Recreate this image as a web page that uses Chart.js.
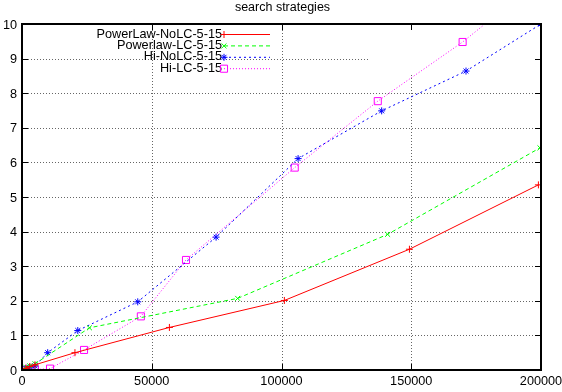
<!DOCTYPE html>
<html>
<head>
<meta charset="utf-8">
<script src="https://cdn.jsdelivr.net/npm/chart.js@4/dist/chart.umd.min.js"></script>
<style>
    html, body { margin: 0; padding: 0; background: #fff; }
    #wrap { width: 562px; height: 392px; }
</style>
</head>
<body>
<div id="wrap"><canvas id="searchChart" width="562" height="392"></canvas></div>
<script>
// values
const xTicks = [0, 50000, 100000, 150000, 200000];
const yTicks = [0, 1, 2, 3, 4, 5, 6, 7, 8, 9, 10];

const powerNoLcX = [0, 1500, 3000, 5000, 20400, 56800, 101100, 149300, 199000];
const powerNoLcY = [0, 0.05, 0.1, 0.15, 0.5, 1.23, 2.01, 3.49, 5.35];

const powerLcX = [0, 1500, 3000, 5000, 26000, 83100, 140900, 199600];
const powerLcY = [0, 0.08, 0.12, 0.18, 1.22, 2.07, 3.92, 6.42];

const hiNoLcX = [0, 1500, 3000, 5000, 9900, 21500, 44600, 74800, 106400, 138600, 171100, 200000];
const hiNoLcY = [0, 0.05, 0.08, 0.12, 0.5, 1.14, 1.97, 3.84, 6.11, 7.49, 8.64, 10.0];

const hiLcX = [0, 1500, 3000, 5000, 10800, 23900, 45800, 63200, 105100, 137100, 169800, 200000];
const hiLcY = [0, 0, 0, 0.01, 0.04, 0.58, 1.55, 3.18, 5.85, 7.77, 9.48, 11.3];

const seriesLabels = ['PowerLaw-NoLC-5-15', 'Powerlaw-LC-5-15', 'Hi-NoLC-5-15', 'Hi-LC-5-15'];

const FONT = '"Liberation Sans", Arial, sans-serif';

function toPoints(xs, ys) {
    return xs.map(function (x, i) { return { x: x, y: ys[i] }; });
}

// gnuplot style frame: dotted grid, black border, inward ticks, labels
const frame = {
    id: 'frame',
    beforeDatasetsDraw: function (chart) {
        const ctx = chart.ctx, a = chart.chartArea;
        const xs = chart.scales.x, ys = chart.scales.y;
        // the reference leaves the grid blank in the upper right corner
        const gapLeft = 368, gapBottom = 75;
        ctx.save();
        ctx.strokeStyle = '#666';
        ctx.lineWidth = 1;
        ctx.setLineDash([1, 2]);
        xTicks.forEach(function (v) {
            const px = Math.round(xs.getPixelForValue(v)) + 0.5;
            if (px <= a.left + 1 || px >= a.right - 1) return;
            const top = px > gapLeft ? gapBottom : a.top;
            ctx.beginPath(); ctx.moveTo(px, top); ctx.lineTo(px, a.bottom); ctx.stroke();
        });
        yTicks.forEach(function (v) {
            const py = Math.round(ys.getPixelForValue(v)) + 0.5;
            if (py <= a.top + 1 || py >= a.bottom - 1) return;
            const right = py < gapBottom ? gapLeft : a.right;
            ctx.beginPath(); ctx.moveTo(a.left, py); ctx.lineTo(right, py); ctx.stroke();
        });
        ctx.restore();
    },
    afterDatasetsDraw: function (chart) {
        const ctx = chart.ctx, a = chart.chartArea;
        const xs = chart.scales.x, ys = chart.scales.y;
        ctx.save();
        ctx.strokeStyle = '#000';
        ctx.lineWidth = 1;
        ctx.setLineDash([]);
        xTicks.forEach(function (v) {
            const px = Math.round(xs.getPixelForValue(v)) + 0.5;
            ctx.beginPath();
            ctx.moveTo(px, a.bottom); ctx.lineTo(px, a.bottom - 6);
            ctx.moveTo(px, a.top); ctx.lineTo(px, a.top + 6);
            ctx.stroke();
        });
        yTicks.forEach(function (v) {
            const py = Math.round(ys.getPixelForValue(v)) + 0.5;
            ctx.beginPath();
            ctx.moveTo(a.left, py); ctx.lineTo(a.left + 6, py);
            ctx.moveTo(a.right, py); ctx.lineTo(a.right - 6, py);
            ctx.stroke();
        });
        ctx.lineWidth = 2;
        ctx.strokeRect(a.left, a.top, a.right - a.left, a.bottom - a.top);

        ctx.fillStyle = '#000';
        ctx.font = '12.7px ' + FONT;
        ctx.textAlign = 'right';
        ctx.textBaseline = 'middle';
        yTicks.forEach(function (v) {
            ctx.fillText(String(v), a.left - 5, ys.getPixelForValue(v) + 1);
        });
        ctx.textAlign = 'center';
        ctx.textBaseline = 'top';
        xTicks.forEach(function (v) {
            ctx.fillText(String(v), xs.getPixelForValue(v), a.bottom + 5);
        });

        // title
        ctx.font = '12.5px ' + FONT;
        ctx.textBaseline = 'middle';
        ctx.fillText('search strategies', (a.left + a.right) / 2 + 1, 8);

        // key: text then sample, like gnuplot
        ctx.font = '12.7px ' + FONT;
        chart.data.datasets.forEach(function (ds, i) {
            const ry = 34 + i * 11.4;
            ctx.textAlign = 'right';
            ctx.fillStyle = '#000';
            ctx.fillText(ds.label, 222, ry);
            ctx.strokeStyle = ds.borderColor;
            ctx.lineWidth = 1;
            ctx.setLineDash(ds.borderDash || []);
            ctx.beginPath(); ctx.moveTo(224, ry + 0.5); ctx.lineTo(270, ry + 0.5); ctx.stroke();
            ctx.setLineDash([]);
            ctx.fillStyle = ds.pointBackgroundColor;
            ctx.strokeStyle = ds.borderColor;
            Chart.helpers.drawPoint(ctx, {
                pointStyle: ds.pointStyle, radius: ds.pointRadius, borderWidth: 1, rotation: 0
            }, 224, ry + 0.5);
        });
        ctx.restore();
    }
};

function series(label, xs, ys, color, dash, style, radius, fill) {
    return {
        label: label,
        data: toPoints(xs, ys),
        showLine: true,
        borderColor: color,
        borderWidth: 1,
        borderDash: dash,
        pointStyle: style,
        pointRadius: radius,
        pointBorderWidth: 1,
        pointBorderColor: color,
        pointBackgroundColor: fill,
        tension: 0
    };
}

new Chart(document.getElementById('searchChart').getContext('2d'), {
    type: 'scatter',
    data: {
        datasets: [
            series(seriesLabels[0], powerNoLcX, powerNoLcY, '#ff0000', [], 'cross', 3.5, '#ff0000'),
            series(seriesLabels[1], powerLcX, powerLcY, '#00ff00', [4, 3], 'crossRot', 3.5, '#00ff00'),
            series(seriesLabels[2], hiNoLcX, hiNoLcY, '#0000ff', [2, 3], 'star', 3.5, '#0000ff'),
            series(seriesLabels[3], hiLcX, hiLcY, '#ff00ff', [1, 2], 'rect', 5, 'rgba(0,0,0,0)')
        ]
    },
    options: {
        responsive: false,
        animation: false,
        events: [],
        layout: { padding: { left: 0, right: 21, top: 24, bottom: 0 } },
        plugins: { legend: { display: false }, title: { display: false }, tooltip: { enabled: false } },
        scales: {
            x: {
                type: 'linear', min: 0, max: 200000,
                ticks: { display: false, stepSize: 50000 },
                grid: { display: false }, border: { display: false },
                afterFit: function (s) { s.height = 22; }
            },
            y: {
                type: 'linear', min: 0, max: 10,
                ticks: { display: false, stepSize: 1 },
                grid: { display: false }, border: { display: false },
                afterFit: function (s) { s.width = 22; }
            }
        }
    },
    plugins: [frame]
});
</script>
</body>
</html>
